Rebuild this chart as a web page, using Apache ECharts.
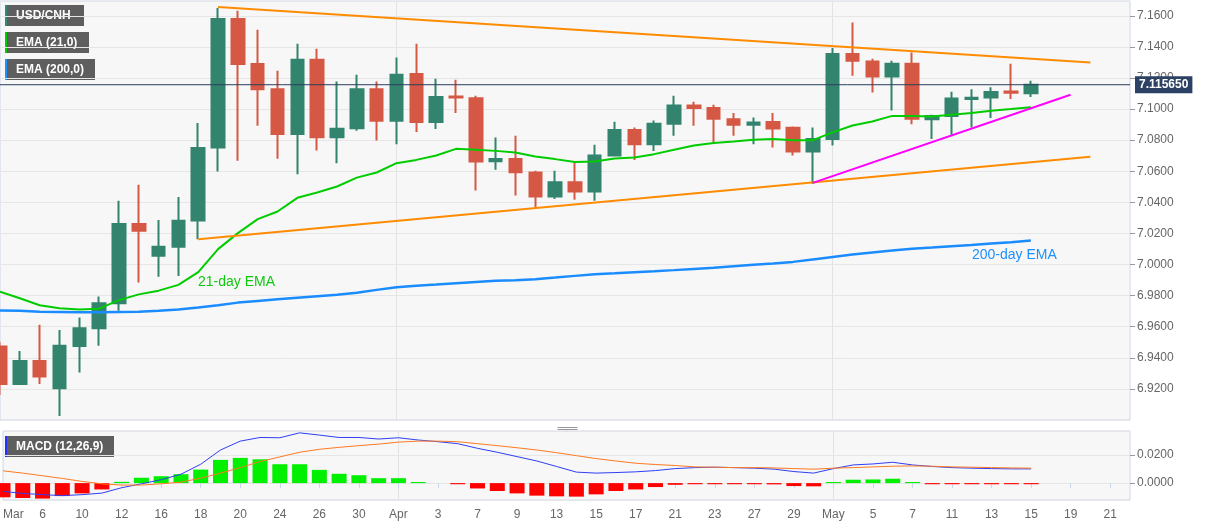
<!DOCTYPE html>
<html>
<head>
<meta charset="utf-8">
<script src="https://cdn.jsdelivr.net/npm/echarts@6/dist/echarts.min.js"></script>
<style>
html,body{margin:0;padding:0;background:#fff;}
#chart{width:1207px;height:526px;}
</style>
</head>
<body>
<div id="chart"></div>
<script>
// ---- data ----
const dates = ['03-04','03-05','03-06','03-09','03-10','03-11','03-12','03-13','03-16','03-17','03-18','03-19','03-20','03-23','03-24','03-25','03-26','03-27','03-30','03-31','04-01','04-02','04-03','04-06','04-07','04-08','04-09','04-10','04-13','04-14','04-15','04-16','04-17','04-20','04-21','04-22','04-23','04-24','04-27','04-28','04-29','04-30','05-01','05-04','05-05','05-06','05-07','05-08','05-11','05-12','05-13','05-14','05-15','05-18','05-19','05-20','05-21','05-22'];
const monthNames = ['Jan','Feb','Mar','Apr','May','Jun','Jul','Aug','Sep','Oct','Nov','Dec'];

const open  = [6.9472,6.9232,6.9380,6.9204,6.9476,6.9590,6.9751,7.0260,7.0056,7.0114,7.0283,7.0753,7.1579,7.1289,7.1128,7.0839,7.1317,7.0819,7.0877,7.1128,7.0924,7.1225,7.0916,7.1080,7.1070,7.0665,7.0678,7.0592,7.0437,7.0530,7.0469,7.0701,7.0866,7.0774,7.0905,7.1023,7.1006,7.0935,7.0899,7.0916,7.0879,7.0727,7.0808,7.1354,7.1306,7.1209,7.1291,7.0935,7.0956,7.1064,7.1074,7.1113,7.1102];
const close = [6.9232,6.9380,6.9279,6.9478,6.9590,6.9751,7.0260,7.0217,7.0114,7.0281,7.0749,7.1579,7.1289,7.1128,7.0839,7.1317,7.0819,7.0873,7.1128,7.0924,7.1220,7.0916,7.1077,7.1074,7.0662,7.0678,7.0594,7.0437,7.0530,7.0469,7.0701,7.0866,7.0774,7.0905,7.1023,7.1006,7.0937,7.0899,7.0913,7.0875,7.0727,7.0808,7.1354,7.1310,7.1209,7.1291,7.0937,7.0956,7.1068,7.1072,7.1109,7.1105,7.11565];
const low   = [6.9161,6.9230,6.9232,6.9026,6.9305,6.9478,6.9702,6.9884,6.9922,6.9927,7.0163,7.0598,7.0667,7.0892,7.0680,7.0581,7.0733,7.0652,7.0860,7.0798,7.0774,7.0852,7.0871,7.0974,7.0476,7.0609,7.0444,7.0363,7.0422,7.0416,7.0410,7.0695,7.0673,7.0731,7.0828,7.0892,7.0781,7.0828,7.0774,7.0753,7.0701,7.0519,7.0765,7.1214,7.1106,7.0991,7.0903,7.0807,7.0834,7.0881,7.0942,7.1064,7.1077];
const high  = [6.9504,6.9444,6.9612,6.9579,6.9659,6.9794,7.0410,7.0513,7.0287,7.0435,7.0910,7.1650,7.1632,7.1510,7.1246,7.1420,7.1388,7.1177,7.1220,7.1177,7.1332,7.1420,7.1195,7.1188,7.1085,7.0817,7.0828,7.0603,7.0603,7.0659,7.0770,7.0918,7.0881,7.0926,7.1085,7.1047,7.1027,7.0974,7.0946,7.0974,7.0888,7.0881,7.1392,7.1557,7.1323,7.1310,7.1364,7.0963,7.1111,7.1128,7.1141,7.1291,7.1182];

const ema21  = [6.9826,6.9783,6.9738,6.9719,6.9711,6.9716,6.9771,6.9808,6.9832,6.9869,6.9951,7.0099,7.0202,7.0292,7.0341,7.0429,7.0463,7.0502,7.0559,7.0592,7.0652,7.0673,7.0701,7.0744,7.0738,7.0731,7.0720,7.0695,7.0678,7.0659,7.0662,7.0682,7.0688,7.0710,7.0738,7.0765,7.0781,7.0791,7.0802,7.0808,7.0800,7.0800,7.0850,7.0894,7.0920,7.0956,7.0955,7.0952,7.0963,7.0974,7.0989,7.1000,7.1012];
const ema200 = [6.9704,6.9702,6.9697,6.9695,6.9693,6.9693,6.9695,6.9697,6.9702,6.9710,6.9723,6.9738,6.9755,6.9766,6.9777,6.9787,6.9796,6.9805,6.9819,6.9837,6.9854,6.9863,6.9871,6.9880,6.9888,6.9895,6.9899,6.9906,6.9916,6.9927,6.9938,6.9944,6.9951,6.9957,6.9964,6.9972,6.9980,6.9989,6.9998,7.0006,7.0017,7.0033,7.0049,7.0064,7.0077,7.0090,7.0101,7.0109,7.0118,7.0126,7.0135,7.0144,7.0154];

const macdLine   = [-0.0059,-0.0073,-0.0082,-0.0089,-0.0082,-0.0071,-0.0033,-0.0005,0.0024,0.0063,0.0134,0.0235,0.0298,0.0324,0.0322,0.0357,0.0341,0.0324,0.0324,0.0313,0.0322,0.0306,0.0294,0.0280,0.0247,0.0219,0.0188,0.0157,0.0118,0.0078,0.0071,0.0075,0.0080,0.0089,0.0103,0.0110,0.0113,0.0110,0.0106,0.0099,0.0082,0.0071,0.0103,0.0129,0.0136,0.0148,0.0129,0.0118,0.0110,0.0106,0.0103,0.0101,0.0101];
const signalLine = [0.0087,0.0071,0.0052,0.0033,0.0012,-0.0005,-0.0014,-0.0014,-0.0005,0.0007,0.0035,0.0071,0.0110,0.0153,0.0186,0.0219,0.0240,0.0254,0.0266,0.0277,0.0291,0.0298,0.0298,0.0294,0.0280,0.0266,0.0251,0.0235,0.0216,0.0195,0.0174,0.0157,0.0141,0.0132,0.0125,0.0115,0.0113,0.0110,0.0110,0.0108,0.0103,0.0099,0.0106,0.0110,0.0115,0.0120,0.0122,0.0120,0.0115,0.0113,0.0110,0.0108,0.0106];
const histogram  = [-0.0101,-0.0106,-0.0110,-0.0092,-0.0073,-0.0045,0.0009,0.0038,0.0049,0.0063,0.0096,0.0165,0.0179,0.0169,0.0134,0.0134,0.0094,0.0066,0.0056,0.0035,0.0035,0.0008,0.0000,-0.0008,-0.0038,-0.0056,-0.0073,-0.0089,-0.0094,-0.0096,-0.0080,-0.0056,-0.0045,-0.0028,-0.0012,-0.0008,-0.0008,-0.0008,-0.0008,-0.0009,-0.0021,-0.0023,0.0008,0.0024,0.0026,0.0031,0.0008,-0.0008,-0.0008,-0.0008,-0.0008,-0.0008,-0.0008];

// trend lines: [date, value] end points
const upperTrend   = [['03-19', 7.1656], ['05-20', 7.1300]];
const lowerTrend   = [['03-18', 7.0162], ['05-20', 7.0693]];
const supportTrend = [['04-30', 7.0525], ['05-19', 7.1092]];

const lastPrice = 7.115650;
const priceTicks = {min: 6.90, max: 7.1695, interval: 0.02};
const macdTicks = {min: -0.012, max: 0.037};

// ---- chart ----
const FONT = '"Liberation Sans", Arial, sans-serif';
const chart = echarts.init(document.getElementById('chart'), null, {renderer: 'canvas'});

const candleData = open.map((o, i) => [o, close[i], low[i], high[i]]);
const histData = histogram.map(v => ({value: v, itemStyle: {color: v >= 0 ? '#00f000' : '#ff0000'}}));
const priceLineData = [[dates[0], lastPrice], [dates[dates.length - 1], lastPrice]];

const isMonthStart = (idx, val) => val.slice(3) === '01';
const xLabelFmt = (val, idx) => {
  const m = +val.slice(0, 2), d = +val.slice(3);
  if (idx === 0 || d === 1) return monthNames[m - 1];
  return String(d);
};

function legendBox(x, y, w, text, barColor) {
  return {
    type: 'group', left: x, top: y,
    children: [
      {type: 'rect', shape: {x: 0, y: 0, width: w, height: 21}, style: {fill: '#5e5e5e'}},
      {type: 'rect', shape: {x: 0, y: 0, width: 2, height: 21}, style: {fill: barColor}},
      {type: 'text', x: 11, y: 11, style: {text: text, fill: '#ffffff', font: 'bold 12px ' + FONT, textVerticalAlign: 'middle'}}
    ]
  };
}

const gridLineColor = '#e6e6e6';
const frameColor = '#ccd6eb';

const option = {
  animation: false,
  backgroundColor: '#ffffff',
  grid: [
    {left: 0, top: 1, width: 1130, height: 419, show: true, backgroundColor: '#f7f7f7', borderColor: frameColor, borderWidth: 1},
    {left: 0, top: 431, width: 1130, height: 69, show: true, backgroundColor: '#f7f7f7', borderColor: frameColor, borderWidth: 1}
  ],
  xAxis: [
    {
      type: 'category', gridIndex: 0, data: dates, boundaryGap: false,
      axisLine: {show: false}, axisTick: {show: false}, axisLabel: {show: false},
      splitLine: {show: true, interval: isMonthStart, lineStyle: {color: '#e3e3e3', width: 1}}
    },
    {
      type: 'category', gridIndex: 1, data: dates, boundaryGap: false,
      axisLine: {show: false},
      axisTick: {show: true, interval: 1, length: 5, lineStyle: {color: frameColor}},
      axisLabel: {show: true, interval: 1, formatter: xLabelFmt, color: '#666666', fontSize: 12, fontFamily: FONT, margin: 9, alignMinLabel: 'left'},
      splitLine: {show: true, interval: isMonthStart, lineStyle: {color: '#e3e3e3', width: 1}}
    }
  ],
  yAxis: [
    {
      type: 'value', gridIndex: 0, position: 'right', scale: true,
      min: priceTicks.min, max: priceTicks.max, interval: priceTicks.interval,
      axisLine: {show: false},
      axisTick: {show: true, length: 5, lineStyle: {color: '#999999'}},
      axisLabel: {color: '#666666', fontSize: 12, fontFamily: FONT, margin: 7, showMinLabel: false, showMaxLabel: false, formatter: v => v.toFixed(4)},
      splitLine: {show: true, lineStyle: {color: gridLineColor}}
    },
    {
      type: 'value', gridIndex: 1, position: 'right',
      min: macdTicks.min, max: macdTicks.max, splitNumber: 2,
      axisLine: {show: false},
      axisTick: {show: true, length: 5, lineStyle: {color: '#999999'}},
      axisLabel: {color: '#666666', fontSize: 12, fontFamily: FONT, margin: 7, showMinLabel: false, showMaxLabel: false, formatter: v => Math.abs(v) < 1e-9 ? '0.0000' : v.toFixed(4)},
      splitLine: {show: true, lineStyle: {color: gridLineColor}}
    }
  ],
  series: [
    {
      type: 'candlestick', name: 'USD/CNH', xAxisIndex: 0, yAxisIndex: 0,
      data: candleData, barWidth: 13, clip: true,
      itemStyle: {color: '#33846f', color0: '#d55845', borderColor: '#33846f', borderColor0: '#d55845', borderWidth: 2}
    },
    {
      type: 'line', name: 'last', xAxisIndex: 0, yAxisIndex: 0, data: priceLineData, symbol: 'none', silent: true,
      lineStyle: {color: '#2c3e5c', width: 1}, z: 5,
      endLabel: {show: true, distance: 5, formatter: () => lastPrice.toFixed(6),
                 color: '#ffffff', fontWeight: 'bold', fontSize: 12, fontFamily: FONT,
                 backgroundColor: '#2c4163', padding: [3, 4, 2, 4]}
    },
    {type: 'line', name: 'EMA (200,0)', xAxisIndex: 0, yAxisIndex: 0, data: ema200, symbol: 'none', smooth: false,
     lineStyle: {color: '#1a8cff', width: 2.5}, z: 3},
    {type: 'line', name: 'EMA (21,0)', xAxisIndex: 0, yAxisIndex: 0, data: ema21, symbol: 'none', smooth: false,
     lineStyle: {color: '#00cc00', width: 2}, z: 3},
    {type: 'line', name: 'upper', xAxisIndex: 0, yAxisIndex: 0, data: upperTrend, symbol: 'none',
     lineStyle: {color: '#ff8c00', width: 2}, z: 4},
    {type: 'line', name: 'lower', xAxisIndex: 0, yAxisIndex: 0, data: lowerTrend, symbol: 'none',
     lineStyle: {color: '#ff8c00', width: 2}, z: 4},
    {type: 'line', name: 'support', xAxisIndex: 0, yAxisIndex: 0, data: supportTrend, symbol: 'none',
     lineStyle: {color: '#ff00ff', width: 2}, z: 4},
    {type: 'bar', name: 'hist', xAxisIndex: 1, yAxisIndex: 1, data: histData, barWidth: 15, clip: true},
    {type: 'line', name: 'MACD', xAxisIndex: 1, yAxisIndex: 1, data: macdLine, symbol: 'none',
     lineStyle: {color: '#2f3ff5', width: 1}, z: 4},
    {type: 'line', name: 'Signal', xAxisIndex: 1, yAxisIndex: 1, data: signalLine, symbol: 'none',
     lineStyle: {color: '#ff7a22', width: 1}, z: 4}
  ],
  graphic: [
    legendBox(5, 5, 79, 'USD/CNH', '#2e8b78'),
    legendBox(5, 32, 84, 'EMA (21,0)', '#00cc00'),
    legendBox(5, 59, 90, 'EMA (200,0)', '#1e90ff'),
    legendBox(5, 436, 109, 'MACD (12,26,9)', '#2233ff'),
    {type: 'text', left: 198, top: 275, style: {text: '21-day EMA', fill: '#11c811', font: '14px ' + FONT}, z: 10},
    {type: 'text', left: 972, top: 248, style: {text: '200-day EMA', fill: '#1e90ff', font: '14px ' + FONT}, z: 10},
    {type: 'group', left: 555, top: 425, children: [
      {type: 'line', shape: {x1: 0, y1: 1, x2: 20, y2: 1}, style: {stroke: '#999', lineWidth: 1}},
      {type: 'line', shape: {x1: 0, y1: 3, x2: 20, y2: 3}, style: {stroke: '#999', lineWidth: 1}},
      {type: 'line', shape: {x1: 0, y1: 5, x2: 20, y2: 5}, style: {stroke: '#999', lineWidth: 1}}
    ]}
  ]
};
chart.setOption(option);
</script>
</body>
</html>
